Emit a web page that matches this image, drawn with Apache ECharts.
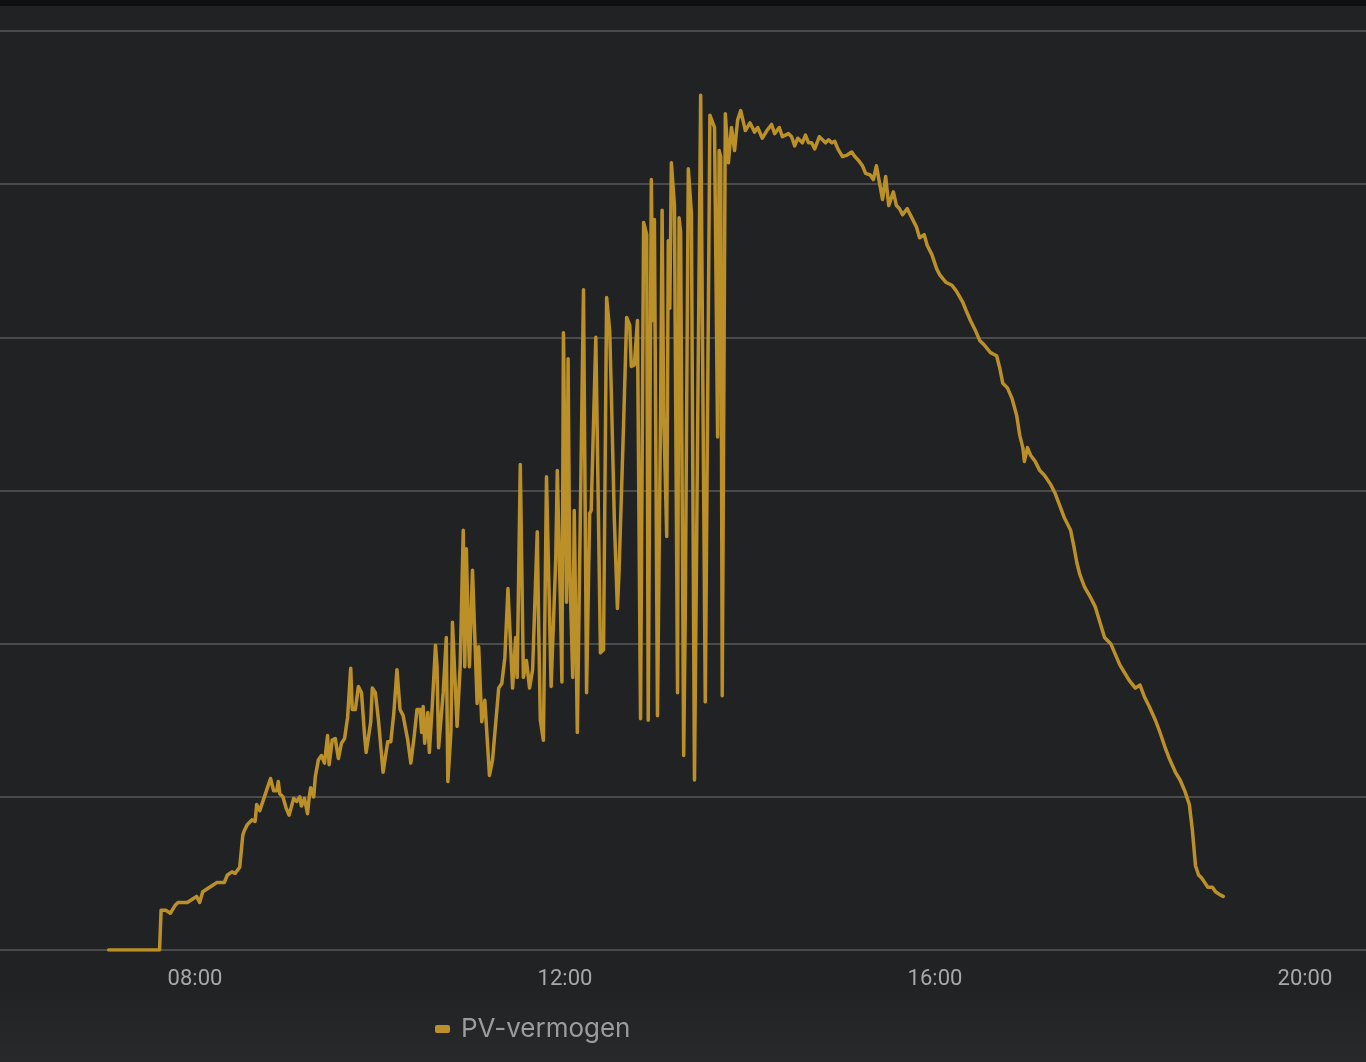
<!DOCTYPE html>
<html>
<head>
<meta charset="utf-8">
<script src="https://cdn.jsdelivr.net/npm/echarts@6/dist/echarts.min.js"></script>
<style>
  html, body { margin: 0; padding: 0; background: #212224; }
  #chart { width: 1366px; height: 1062px; }
</style>
</head>
<body>
<div id="chart"></div>
<script>
// Time of day (HH:MM) of each sample
const times = [
  "07:04","07:37","07:38","07:41","07:44","07:47","07:49","07:55","07:58","08:01",
  "08:03","08:05","08:08","08:11","08:14","08:16","08:19","08:21","08:24","08:26",
  "08:29","08:30","08:31","08:32","08:34","08:37","08:39","08:40","08:42","08:45",
  "08:47","08:49","08:51","08:53","08:54","08:55","08:57","08:59","09:01","09:04",
  "09:06","09:08","09:09","09:11","09:13","09:14","09:15","09:17","09:18","09:20",
  "09:22","09:24","09:26","09:27","09:29","09:31","09:33","09:35","09:37","09:39",
  "09:41","09:42","09:44","09:46","09:48","09:50","09:51","09:54","09:55","09:57",
  "09:59","10:02","10:05","10:07","10:09","10:11","10:13","10:15","10:18","10:20",
  "10:22","10:24","10:26","10:27","10:28","10:29","10:31","10:32","10:34","10:35",
  "10:36","10:37","10:38","10:39","10:41","10:43","10:44","10:46","10:47","10:50",
  "10:52","10:54","10:55","10:56","10:57","10:58","11:00","11:03","11:04","11:06",
  "11:08","11:11","11:13","11:17","11:19","11:21","11:23","11:26","11:28","11:29",
  "11:31","11:33","11:35","11:37","11:39","11:42","11:43","11:44","11:46","11:48",
  "11:51","11:54","11:55","11:57","11:58","11:59","12:01","12:02","12:03","12:05",
  "12:06","12:08","12:12","12:14","12:16","12:17","12:20","12:23","12:25","12:27",
  "12:29","12:30","12:32","12:34","12:35","12:36","12:38","12:40","12:42","12:43",
  "12:45","12:47","12:49","12:51","12:53","12:54","12:56","12:57","12:58","13:00",
  "13:02","13:03","13:04","13:06","13:07","13:08","13:09","13:11","13:13","13:14",
  "13:15","13:17","13:18","13:20","13:22","13:24","13:28","13:31","13:34","13:37",
  "13:39","13:40","13:41","13:42","13:44","13:46","13:48","13:50","13:52","13:54",
  "13:57","14:00","14:03","14:05","14:08","14:11","14:14","14:16","14:19","14:21",
  "14:25","14:27","14:29","14:31","14:34","14:36","14:38","14:40","14:42","14:45",
  "14:49","14:51","14:53","14:55","14:57","15:00","15:03","15:06","15:08","15:10",
  "15:13","15:15","15:18","15:20","15:22","15:24","15:26","15:28","15:30","15:33",
  "15:35","15:37","15:39","15:42","15:45","15:48","15:50","15:53","15:55","15:58",
  "16:01","16:03","16:07","16:11","16:14","16:18","16:20","16:23","16:26","16:29",
  "16:32","16:36","16:40","16:42","16:44","16:47","16:50","16:53","16:55","16:57",
  "16:58","17:00","17:02","17:05","17:08","17:11","17:15","17:18","17:21","17:24",
  "17:28","17:30","17:32","17:34","17:37","17:41","17:44","17:47","17:50","17:54",
  "17:57","18:00","18:03","18:06","18:10","18:13","18:16","18:19","18:23","18:26",
  "18:29","18:32","18:36","18:39","18:42","18:45","18:47","18:49","18:51","18:53",
  "18:55","18:57","19:00","19:02","19:05","19:07"
];
// PV power in kW at each sample
const pvKW = [
  0,0,0.26,0.26,0.24,0.29,0.31,0.31,0.33,0.35,
  0.31,0.38,0.40,0.42,0.44,0.44,0.44,0.49,0.51,0.50,
  0.54,0.55,0.75,0.78,0.82,0.85,0.84,0.95,0.91,1.00,
  1.06,1.12,1.04,1.04,1.10,1.02,1.00,0.93,0.88,0.99,
  0.97,1.00,0.94,0.99,0.89,0.99,1.06,1.00,1.13,1.24,
  1.27,1.22,1.40,1.21,1.37,1.38,1.25,1.35,1.38,1.52,
  1.84,1.57,1.57,1.72,1.68,1.40,1.29,1.49,1.71,1.68,
  1.50,1.16,1.36,1.36,1.55,1.83,1.57,1.53,1.37,1.22,
  1.38,1.57,1.57,1.42,1.59,1.35,1.55,1.29,1.61,1.61,
  1.99,1.85,1.32,1.33,1.68,2.04,1.10,1.42,2.14,1.46,
  1.85,2.74,1.85,2.62,2.20,1.85,2.48,1.61,1.98,1.49,
  1.63,1.14,1.24,1.71,1.74,1.91,2.36,1.71,2.04,1.78,
  3.17,1.78,1.89,1.71,1.83,2.73,2.07,1.50,1.37,3.09,
  1.72,2.55,3.13,2.28,1.75,4.03,2.27,3.86,2.55,1.78,
  2.87,1.42,4.31,1.68,2.85,2.87,4.00,1.94,1.96,4.26,
  4.04,3.66,2.81,2.23,2.45,2.46,3.43,4.13,4.08,3.81,
  3.82,4.11,1.51,4.75,4.67,1.50,5.03,4.11,4.77,1.53,
  3.51,4.83,3.51,2.70,4.63,4.19,5.14,4.86,1.68,4.78,
  4.69,1.27,2.17,5.10,4.81,1.11,5.58,1.62,5.45,5.37,
  3.35,5.22,5.18,1.66,5.46,5.14,5.37,5.22,5.42,5.48,
  5.35,5.40,5.34,5.37,5.30,5.35,5.39,5.33,5.37,5.31,
  5.33,5.31,5.25,5.30,5.27,5.32,5.27,5.27,5.23,5.31,
  5.27,5.29,5.27,5.28,5.23,5.18,5.19,5.21,5.18,5.16,
  5.12,5.07,5.06,5.03,5.12,5.01,4.90,5.05,4.86,4.95,
  4.86,4.84,4.80,4.84,4.78,4.72,4.65,4.67,4.60,4.54,
  4.45,4.41,4.36,4.34,4.30,4.23,4.18,4.11,4.05,3.98,
  3.95,3.90,3.88,3.80,3.70,3.67,3.60,3.49,3.36,3.28,
  3.19,3.28,3.23,3.19,3.13,3.10,3.04,2.98,2.90,2.82,
  2.74,2.64,2.53,2.45,2.37,2.30,2.24,2.14,2.04,2.00,
  1.93,1.86,1.81,1.76,1.71,1.73,1.65,1.59,1.50,1.42,
  1.33,1.25,1.16,1.11,1.04,0.95,0.78,0.55,0.49,0.47,
  0.44,0.41,0.41,0.38,0.36,0.35
];
// X-axis tick labels
const xTickLabels = ["08:00", "12:00", "16:00", "20:00"];
const seriesName = "PV-vermogen";

function toMin(t) { const p = t.split(":"); return (+p[0]) * 60 + (+p[1]); }
function fmt(m) { const h = Math.floor(m / 60), mm = Math.round(m % 60); return String(h).padStart(2, "0") + ":" + String(mm).padStart(2, "0"); }

const data = times.map((t, i) => [toMin(t), pvKW[i]]);
const tickVals = xTickLabels.map(toMin);

const chart = echarts.init(document.getElementById("chart"), null, { renderer: "canvas" });
chart.setOption({
  backgroundColor: "#212224",
  animation: false,
  graphic: [
    { type: "rect", left: 0, top: 0, shape: { width: 1366, height: 6 }, style: { fill: "#0e0f11" }, silent: true },
    { type: "rect", left: 0, top: 985, z: -1, shape: { width: 1366, height: 77 },
      style: { fill: new echarts.graphic.LinearGradient(0, 0, 0, 1, [
        { offset: 0, color: "#212224" }, { offset: 1, color: "#28292b" }]) }, silent: true }
  ],
  grid: { left: 0, right: 0, top: 31, bottom: 112, containLabel: false },
  xAxis: {
    type: "value",
    min: 353.5,
    max: 1239.6,
    axisLine: { show: false },
    axisTick: { show: false },
    splitLine: { show: false },
    axisLabel: {
      customValues: tickVals,
      formatter: (v) => fmt(v),
      color: "#a8a8a8",
      fontFamily: "Roboto, 'Liberation Sans', sans-serif",
      fontSize: 22,
      margin: 18
    }
  },
  yAxis: {
    type: "value",
    min: 0,
    max: 6,
    interval: 1,
    axisLine: { show: false },
    axisTick: { show: false },
    axisLabel: { show: false },
    splitLine: { show: true, lineStyle: { color: "#4a4b4d", width: 2 } }
  },
  legend: {
    show: true,
    left: 430,
    top: 1011,
    itemWidth: 15,
    itemHeight: 8,
    icon: "roundRect",
    textStyle: {
      color: "#9c9c9c",
      fontFamily: "Inter, 'Open Sans', sans-serif",
      fontSize: 26,
      padding: [0, 0, 0, 6]
    },
    data: [seriesName]
  },
  series: [{
    name: seriesName,
    type: "line",
    data: data,
    showSymbol: false,
    symbol: "none",
    clip: true,
    itemStyle: { color: "#bb9029" },
    lineStyle: { color: "#bb9029", width: 3.5, join: "round", cap: "round" }
  }]
});
</script>
</body>
</html>
